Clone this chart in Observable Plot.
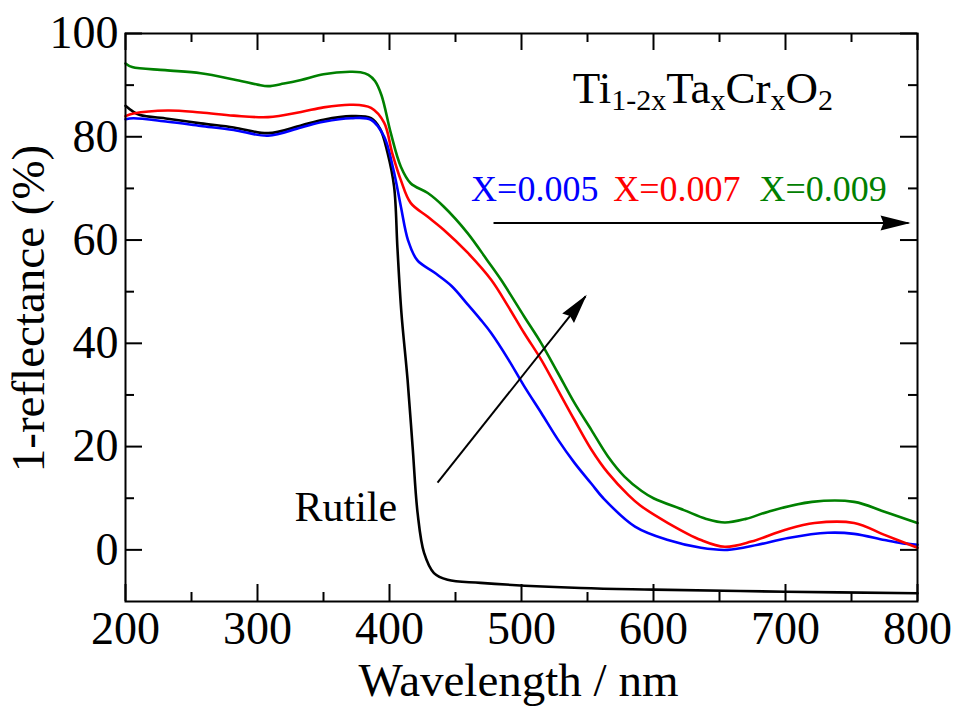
<!DOCTYPE html>
<html>
<head>
<meta charset="utf-8">
<script src="https://cdn.jsdelivr.net/npm/d3@7"></script>
<script src="https://cdn.jsdelivr.net/npm/@observablehq/plot@0.6"></script>
<style>
  html, body { margin: 0; padding: 0; background: #fff; }
  #chart svg { display: block; }
  #chart svg, #chart svg text, #chart svg tspan { font-family: "Liberation Serif", "Times New Roman", serif !important; }
</style>
</head>
<body>
<div id="chart"></div>
<script>
// Diffuse-reflectance spectra, plotted as 1 - reflectance (%) against wavelength (nm).
// Each entry is [wavelength, value].
const rutile = [
  [200, 86.0], [205, 85.0], [211, 84.2], [232, 83.5], [257, 82.6], [282, 81.8],
  [308, 80.7], [333, 82.2], [350, 83.3], [371, 84.0], [386, 83.6], [393, 81.5],
  [398.5, 76.9], [403.5, 70.3], [406, 58.5], [409, 46.0], [413.7, 32.9],
  [417.5, 20.0], [421.3, 7.1], [426.2, -0.6], [433.7, -4.5], [444, -5.8],
  [469, -6.4], [545, -7.4], [600, -7.7], [700, -8.1], [800, -8.4]
];
const x005 = [
  [200, 83.4], [206, 83.6], [232, 82.9], [257, 82.1], [282, 81.3], [308, 80.2],
  [333, 81.8], [350, 82.9], [371, 83.6], [386, 83.3], [396, 80.0], [403, 73.6],
  [408.6, 66.5], [414, 60.0], [421, 56.1], [434, 53.7], [447, 51.1], [459, 47.6],
  [469, 44.6], [477, 42.0], [490, 36.9], [502, 31.7], [515, 26.5], [527.5, 21.4],
  [540, 16.9], [553, 12.8], [562, 10.0], [586, 4.5], [611, 1.9], [636, 0.4],
  [656, 0.0], [679, 1.0], [702, 2.3], [732, 3.3], [752, 3.1], [775, 1.9],
  [788, 1.3], [800, 1.0]
];
const x007 = [
  [200, 84.0], [206, 84.5], [232, 85.1], [257, 84.7], [282, 84.1], [308, 83.8],
  [333, 84.8], [350, 85.7], [371, 86.2], [386, 85.6], [396, 82.7], [402, 76.9],
  [408.6, 71.6], [416, 67.2], [429, 64.5], [441, 62.0], [459, 57.6], [477, 52.3],
  [490, 47.1], [502, 42.0], [515, 36.8], [527.5, 31.0], [540, 25.2], [553, 19.4],
  [565.5, 14.9], [581, 10.6], [590, 8.6], [611, 5.2], [636, 1.9], [654, 0.6],
  [674, 1.6], [700, 3.9], [722, 5.2], [752, 5.2], [775, 2.9], [800, 0.4]
];
const x009 = [
  [200, 94.2], [205, 93.5], [230, 92.9], [257, 92.3], [282, 91.1], [300, 90.1],
  [308, 89.8], [320, 90.3], [333, 91.0], [350, 92.1], [370, 92.6], [378, 92.5],
  [384, 92.0], [389, 90.8], [394, 88.0], [401, 80.7], [408.6, 74.2], [416, 71.0],
  [429, 69.1], [441, 66.5], [459, 61.4], [474, 56.1], [484.5, 52.3], [502, 45.2],
  [515, 40.0], [527.5, 34.3], [540, 28.5], [553, 23.2], [565.5, 18.1], [578, 14.2],
  [591, 11.4], [600, 10.0], [623, 7.7], [640, 6.0], [654, 5.3], [670, 6.0],
  [687, 7.4], [720, 9.3], [752, 9.3], [775, 7.4], [800, 5.2]
];

const seriesNames = ["Rutile", "X=0.005", "X=0.007", "X=0.009"];
const seriesColors = ["#000000", "#0000ff", "#ff0000", "#008000"];
const seriesData = [rutile, x005, x007, x009];

// Axis ticks
const xMajorTicks = [200, 300, 400, 500, 600, 700, 800];
const xMinorTicks = [250, 350, 450, 550, 650, 750];
const yMajorTicks = [0, 20, 40, 60, 80, 100];
const yMinorTicks = [10, 30, 50, 70, 90];

// Annotations
const compositionLabels = ["X=0.005", "X=0.007", "X=0.009"];
const compositionLabelPos = [[461.8, 67.5], [569.5, 67.5], [680.3, 67.5]];
const formulaParts = [["Ti", false], ["1-2x", true], ["Ta", false], ["x", true],
                      ["Cr", false], ["x", true], ["O", false], ["2", true]];
const formulaPos = [538.9, 86.5];
const rutileLabel = "Rutile";
const rutileLabelPos = [328, 5.5];
const trendArrow = {x1: 436.4, y1: 13.0, x2: 548.5, y2: 49.1};
const sequenceArrow = {x1: 478.8, y1: 63.3, x2: 793.2, y2: 63.3};

const xLabel = "Wavelength / nm";
const yLabel = "1-reflectance (%)";

// Layout
const W = 959, H = 713;
const mL = 125, mR = 42, mT = 33, mB = 112;
const frameW = W - mL - mR, frameH = H - mT - mB;
const majorLen = 17, minorLen = 9;
const serif = "Liberation Serif";

const rows = seriesData.map((pts, i) =>
  pts.map(([wl, v]) => ({wl, v, name: seriesNames[i]})));

const tickRulesX = (ticks, len) => [
  Plot.ruleX(ticks, {x: d => d, insetTop: frameH - len, strokeWidth: 2}),
  Plot.ruleX(ticks, {x: d => d, insetBottom: frameH - len, strokeWidth: 2})
];
const tickRulesY = (ticks, len) => [
  Plot.ruleY(ticks, {y: d => d, insetRight: frameW - len, strokeWidth: 2}),
  Plot.ruleY(ticks, {y: d => d, insetLeft: frameW - len, strokeWidth: 2})
];

const plot = Plot.plot({
  width: W,
  height: H,
  marginLeft: mL,
  marginRight: mR,
  marginTop: mT,
  marginBottom: mB,
  style: {fontFamily: serif, background: "#fff", color: "#000"},
  x: {domain: [200, 800]},
  y: {domain: [-10, 100]},
  marks: [
    ...rows.map((r, i) => Plot.line(r, {
      x: "wl", y: "v", stroke: seriesColors[i], strokeWidth: 2.6, curve: "catmull-rom"
    })),
    Plot.frame({strokeWidth: 2}),
    ...tickRulesX(xMajorTicks, majorLen),
    ...tickRulesX(xMinorTicks, minorLen),
    ...tickRulesY(yMajorTicks, majorLen),
    ...tickRulesY(yMinorTicks, minorLen),
    Plot.axisX({ticks: xMajorTicks, tickSize: 0, tickPadding: 10, fontSize: 46, fontFamily: serif, label: null}),
    Plot.axisY({ticks: yMajorTicks, tickSize: 0, tickPadding: 7, fontSize: 46, fontFamily: serif, label: null}),
    Plot.text([xLabel], {text: d => d, frameAnchor: "bottom", dx: -3, dy: 94, lineAnchor: "bottom",
                         fontSize: 47, fontFamily: serif}),
    Plot.text([yLabel], {text: d => d, frameAnchor: "left", dx: -82, dy: -9, rotate: -90,
                         lineAnchor: "bottom", textAnchor: "middle", fontSize: 47, fontFamily: serif}),
    Plot.text(compositionLabels, {
      x: (d, i) => compositionLabelPos[i][0], y: (d, i) => compositionLabelPos[i][1],
      text: d => d, fill: (d, i) => seriesColors[i + 1],
      textAnchor: "start", lineAnchor: "bottom", fontSize: 36, fontFamily: serif
    }),
    Plot.text([formulaParts.map(p => p[0]).join("")], {
      x: formulaPos[0], y: formulaPos[1], text: d => d,
      textAnchor: "start", lineAnchor: "bottom", fontSize: 45, fontFamily: serif
    }),
    Plot.text([rutileLabel], {
      x: rutileLabelPos[0], y: rutileLabelPos[1], text: d => d,
      textAnchor: "start", lineAnchor: "bottom", fontSize: 42, fontFamily: serif
    }),
    Plot.link([trendArrow, sequenceArrow], {
      x1: "x1", y1: "y1", x2: "x2", y2: "y2", stroke: "#000", strokeWidth: 2
    })
  ]
});

const svg = d3.select(plot);

// Filled arrowheads on the two annotation arrows
svg.append("defs").append("marker")
  .attr("id", "arrow-head")
  .attr("viewBox", "-31 -8 32 16")
  .attr("refX", -2).attr("refY", 0)
  .attr("markerWidth", 32).attr("markerHeight", 16)
  .attr("markerUnits", "userSpaceOnUse")
  .attr("orient", "auto")
  .append("path")
  .attr("d", "M0,0L-30,-7.5L-27,0L-30,7.5Z")
  .attr("fill", "#000");
svg.selectAll('g[aria-label="link"] path').attr("marker-end", "url(#arrow-head)");

// Every label is set inside a tspan carrying the serif face explicitly;
// the chemical formula gets lowered, smaller subscripts.
const formulaText = formulaParts.map(p => p[0]).join("");
svg.selectAll("text").each(function() {
  const t = d3.select(this);
  const content = this.textContent;
  t.text(null).attr("font-family", serif).style("font-family", "'Liberation Serif', serif");
  if (content === formulaText) {
    let sub = false;
    formulaParts.forEach(([s, isSub]) => {
      const span = t.append("tspan").text(s).attr("font-family", serif);
      if (isSub) span.attr("font-size", 30);
      if (isSub && !sub) span.attr("dy", 7);
      if (!isSub && sub) span.attr("dy", -7);
      sub = isSub;
    });
  } else {
    t.append("tspan").text(content).attr("font-family", serif);
  }
});

document.getElementById("chart").appendChild(plot);
</script>
</body>
</html>
